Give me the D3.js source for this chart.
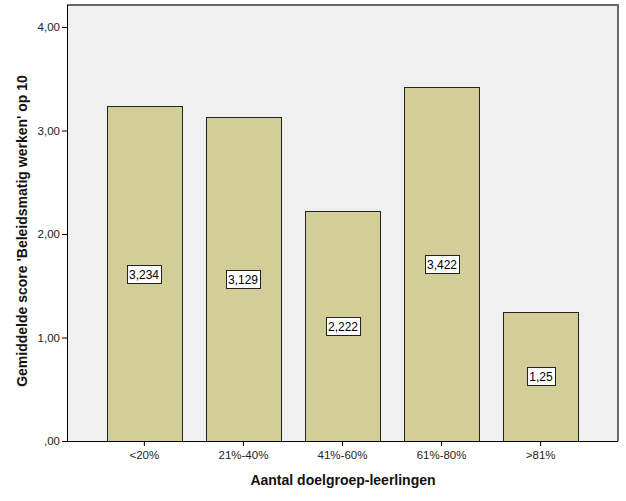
<!DOCTYPE html>
<html><head><meta charset="utf-8">
<script src="https://cdn.jsdelivr.net/npm/d3@7"></script>
<style>body{margin:0;background:#fff}svg{display:block}</style>
</head><body>
<script>
const categories = ["<20%", "21%-40%", "41%-60%", "61%-80%", ">81%"];
const values = [3.234, 3.129, 2.222, 3.422, 1.25];
const valueLabels = ["3,234", "3,129", "2,222", "3,422", "1,25"];
const yTicks = [0, 1, 2, 3, 4];
const yTickLabels = [",00", "1,00", "2,00", "3,00", "4,00"];

(function() {
const W = 626, H = 501;
const pL = 67, pR = 618, pT = 5, pB = 441;
const svg = d3.select("body").append("svg").attr("width", W).attr("height", H);
const font = "Liberation Sans, Arial, sans-serif";

const y = d3.scaleLinear().domain([0, 4.213]).range([pB, pT]);
const x = d3.scaleBand().domain(categories).range([pL, pR]).paddingInner(0.244).paddingOuter(0.403);

svg.append("rect").attr("x", pL).attr("y", pT).attr("width", pR - pL).attr("height", pB - pT).attr("fill", "#f0f0f0");
svg.append("path").attr("d", `M${pL},${pT}H${pR}V${pB}`).attr("fill", "none").attr("stroke", "#6a6a6a").attr("stroke-width", 2);

svg.selectAll("rect.bar").data(values).enter().append("rect").attr("class", "bar")
  .attr("x", (d, i) => Math.round(x(categories[i])) + 0.5)
  .attr("y", d => Math.round(y(d)) + 0.5)
  .attr("width", Math.round(x.bandwidth()))
  .attr("height", d => pB - Math.round(y(d)))
  .attr("fill", "#d3ce98").attr("stroke", "#222").attr("stroke-width", 1);

const lab = svg.selectAll("g.lab").data(values).enter().append("g").attr("class", "lab")
  .attr("transform", (d, i) => `translate(${Math.round(x(categories[i]) + x.bandwidth() / 2)},${Math.round((y(d) + pB) / 2) + 1})`);
lab.each(function(d, i) {
  const g = d3.select(this);
  const t = g.append("text").text(valueLabels[i]).attr("text-anchor", "middle").attr("dy", "0.36em")
    .attr("font-family", font).attr("font-size", 12).attr("fill", "#000");
  const bb = t.node().getBBox();
  g.insert("rect", "text").attr("x", Math.round(bb.x - 2) + 0.5).attr("y", -9.5)
    .attr("width", Math.round(bb.width + 4)).attr("height", 18)
    .attr("fill", "#fff").attr("stroke", "#222");
});

const yAxis = d3.axisLeft(y).tickValues(yTicks).tickFormat((d, i) => yTickLabels[i]).tickSize(5).tickPadding(2);
const gy = svg.append("g").attr("transform", `translate(${pL},0)`).call(yAxis);
const xAxis = d3.axisBottom(x).tickSize(5).tickPadding(5);
const gx = svg.append("g").attr("transform", `translate(0,${pB})`).call(xAxis);
[gy, gx].forEach(g => {
  g.select(".domain").attr("stroke", "#000");
  g.selectAll(".tick line").attr("stroke", "#000");
  g.selectAll(".tick text").attr("font-family", font).attr("font-size", 11.5).attr("fill", "#222");
});
gx.select(".domain").attr("d", `M${pL},0.5H${pR}`);
gy.select(".domain").attr("d", `M0.5,${pT}V${pB}`);

svg.append("text").text("Aantal doelgroep-leerlingen").attr("x", (pL + pR) / 2 + 0.5).attr("y", 485)
  .attr("text-anchor", "middle").attr("font-family", font).attr("font-weight", "bold").attr("font-size", 14).attr("fill", "#111");
svg.append("text").text("Gemiddelde score 'Beleidsmatig werken' op 10")
  .attr("transform", `translate(27,${(pT + pB) / 2 + 8}) rotate(-90)`)
  .attr("text-anchor", "middle").attr("font-family", font).attr("font-weight", "bold").attr("font-size", 14).attr("fill", "#111");
})();
</script>
</body></html>
